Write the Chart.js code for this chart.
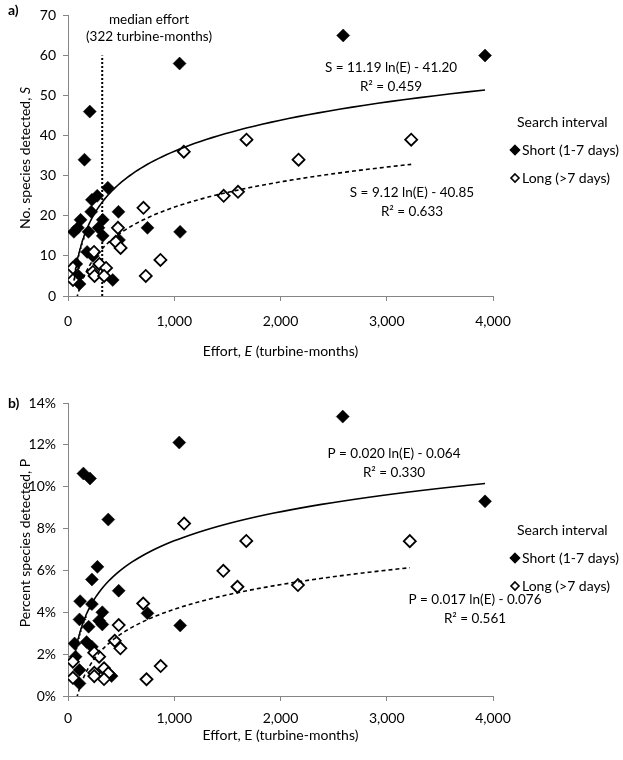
<!DOCTYPE html>
<html>
<head>
<meta charset="utf-8">
<script src="https://cdn.jsdelivr.net/npm/chart.js@4"></script>
<style>
  body { margin: 0; background: #fff; }
  canvas { display: block; }
</style>
</head>
<body>
<canvas id="chartA" width="623" height="380"></canvas>
<canvas id="chartB" width="623" height="380"></canvas>
<script>
// ---- data ----
// panel a: number of species S vs effort E (turbine-months)
const shortEffortA  = [1050, 205, 155, 375, 275, 225, 218, 475, 118, 327, 93, 56, 193, 287, 327, 748, 1055, 480, 180, 234, 78, 100, 109, 421, 2590, 3925];
const shortSpeciesA = [58, 46, 34, 27, 25, 24, 21, 21, 19, 19, 17, 16, 16, 17, 15, 17, 16, 14, 11, 10, 8, 5, 3, 4, 65, 60];
const longEffortA   = [1090, 1680, 1465, 1600, 710, 470, 450, 495, 245, 870, 296, 47, 358, 234, 250, 340, 47, 732, 3230, 2170];
const longSpeciesA  = [36, 39, 25, 26, 22, 17, 13.5, 12, 11, 9, 8, 7, 7, 6, 5, 5, 4, 5, 39, 34];

// panel b: percent of species P vs effort E
const shortEffortB  = [1047, 145, 207, 379, 277, 225, 477, 114, 225, 323, 293, 323, 748, 1056, 108, 194, 62, 175, 225, 71, 108, 108, 410, 2586, 3925];
const shortPercentB = [0.1211, 0.1063, 0.1039, 0.0843, 0.0617, 0.0557, 0.0503, 0.0453, 0.0439, 0.040, 0.036, 0.0342, 0.0395, 0.0337, 0.0366, 0.0331, 0.0251, 0.0258, 0.0235, 0.0188, 0.0124, 0.006, 0.0095, 0.1335, 0.093];
const longEffortB   = [1093, 1678, 1462, 1595, 708, 477, 440, 493, 247, 293, 46, 872, 339, 247, 247, 379, 46, 339, 739, 3217, 2164];
const longPercentB  = [0.0824, 0.0741, 0.0598, 0.0522, 0.0442, 0.0339, 0.0264, 0.0228, 0.0207, 0.0188, 0.0164, 0.0143, 0.0132, 0.0111, 0.0095, 0.0108, 0.0087, 0.0081, 0.008, 0.074, 0.053];

// fitted log trendlines as printed on the figure: y = k ln(E) + c
const fitShortA = [11.19, -41.20];
const fitLongA  = [9.12, -40.85];
const fitShortB = [0.020, -0.064];
const fitLongB  = [0.017, -0.076];
const medianEffort = 322;

const xTicks = [0, 1000, 2000, 3000, 4000];

const FONT = 'Lato, "DejaVu Sans", sans-serif';
const AXIS = '#868686';

function pts(xs, ys) { return xs.map((x, i) => ({ x: x, y: ys[i] })); }

function fitLine(fit, xs) {
  const lo = Math.min(...xs), hi = Math.max(...xs), out = [];
  for (let i = 0; i <= 100; i++) {
    const e = lo * Math.pow(hi / lo, i / 100);
    out.push({ x: e, y: fit[0] * Math.log(e) + fit[1] });
  }
  return out;
}

// draws text made of plain/italic/bold pieces
function rich(ctx, segs, x, y, size, align) {
  let w = 0;
  segs.forEach(s => { ctx.font = (s.b ? 'bold ' : '') + (s.i ? 'italic ' : '') + size + 'px ' + FONT; s.w = ctx.measureText(s.t).width; w += s.w; });
  let cx = align === 'left' ? x : x - w / 2;
  ctx.textBaseline = 'middle';
  ctx.textAlign = 'left';
  ctx.fillStyle = '#000';
  segs.forEach(s => { ctx.font = (s.b ? 'bold ' : '') + (s.i ? 'italic ' : '') + size + 'px ' + FONT; ctx.fillText(s.t, cx, y); cx += s.w; });
}

function diamond(ctx, x, y, r, filled) {
  ctx.beginPath();
  ctx.moveTo(x, y - r); ctx.lineTo(x + r, y); ctx.lineTo(x, y + r); ctx.lineTo(x - r, y); ctx.closePath();
  ctx.fillStyle = filled ? '#000' : '#fff';
  ctx.fill();
  ctx.lineWidth = 1.6; ctx.strokeStyle = '#000'; ctx.stroke();
}

function notesPlugin(cfg) {
  return {
    id: 'notes',
    afterDraw(chart) {
      const ctx = chart.ctx;
      ctx.save();
      rich(ctx, [{ t: cfg.tag, b: true }], 8, cfg.tagY, 14, 'left');
      cfg.labels.forEach(l => rich(ctx, l.segs, l.x, l.y, 13.5, l.align || 'center'));
      // legend
      rich(ctx, [{ t: 'Search interval' }], cfg.legX + 2, cfg.legY, 14, 'left');
      diamond(ctx, cfg.legX, cfg.legY + 28, 4.5, true);
      rich(ctx, [{ t: 'Short (1-7 days)' }], cfg.legX + 7, cfg.legY + 28, 14, 'left');
      diamond(ctx, cfg.legX, cfg.legY + 56, 4, false);
      rich(ctx, [{ t: 'Long (>7 days)' }], cfg.legX + 7, cfg.legY + 56, 14, 'left');
      // axis titles
      const a = chart.chartArea;
      rich(ctx, cfg.xTitle, (a.left + a.right) / 2, cfg.xTitleY, 14, 'center');
      ctx.translate(25, cfg.yTitleY);
      ctx.rotate(-Math.PI / 2);
      rich(ctx, cfg.yTitle, 0, 0, 14, 'center');
      ctx.restore();
    }
  };
}

function makeChart(id, d) {
  return new Chart(document.getElementById(id), {
    type: 'scatter',
    data: {
      datasets: [
        { label: 'fitShort', type: 'line', data: fitLine(d.fitShort, d.shortX), borderColor: '#000', borderWidth: 1.6, pointRadius: 0, order: 0 },
        { label: 'fitLong', type: 'line', data: fitLine(d.fitLong, d.longX), borderColor: '#000', borderWidth: 1.6, borderDash: [4, 3], pointRadius: 0, order: 0 },
        { label: 'Long (>7 days)', data: pts(d.longX, d.longY), pointStyle: 'rectRot', pointRadius: 6, backgroundColor: '#fff', borderColor: '#000', borderWidth: 1.8, order: 1 },
        { label: 'Short (1-7 days)', data: pts(d.shortX, d.shortY), pointStyle: 'rectRot', pointRadius: 6.5, backgroundColor: '#000', borderColor: '#000', borderWidth: 0.5, order: 2 },
        ...(d.median ? [{ label: 'median', type: 'line', data: d.median, borderColor: '#000', borderWidth: 2, borderDash: [2, 2], pointRadius: 0, order: 3 }] : [])
      ]
    },
    options: {
      responsive: false,
      animation: false,
      layout: { padding: { left: 0, right: 130, top: d.top, bottom: 0 } },
      plugins: { legend: { display: false }, tooltip: { enabled: false } },
      scales: {
        x: {
          type: 'linear', min: 0, max: 4000,
          afterBuildTicks: s => { s.ticks = xTicks.map(v => ({ value: v })); },
          ticks: { color: '#000', font: { family: FONT, size: 14 }, padding: d.xPad, callback: v => v.toLocaleString('en-US') },
          grid: { drawOnChartArea: false, tickLength: 5, color: AXIS },
          border: { color: AXIS, width: 1 },
          afterFit: s => { s.height = d.xHeight; }
        },
        y: {
          type: 'linear', min: 0, max: d.yMax,
          afterBuildTicks: s => { s.ticks = d.yTicks.map(v => ({ value: v })); },
          ticks: { color: '#000', font: { family: FONT, size: 14 }, padding: 7, callback: d.yFmt },
          grid: { drawOnChartArea: false, tickLength: 5, color: AXIS },
          border: { color: AXIS, width: 1 },
          afterFit: s => { s.width = 68; }
        }
      }
    },
    plugins: [notesPlugin(d.notes)]
  });
}

makeChart('chartA', {
  shortX: shortEffortA, shortY: shortSpeciesA, longX: longEffortA, longY: longSpeciesA,
  fitShort: fitShortA, fitLong: fitLongA,
  median: [{ x: medianEffort, y: 0 }, { x: medianEffort, y: 60 }],
  yMax: 70, yTicks: [0, 10, 20, 30, 40, 50, 60, 70], yFmt: v => String(v),
  top: 10, xHeight: 84, xPad: 12,
  notes: {
    tag: 'a)', tagY: 10,
    labels: [
      { segs: [{ t: 'median effort' }], x: 149, y: 20 },
      { segs: [{ t: '(322 turbine-months)' }], x: 149, y: 37 },
      { segs: [{ t: 'S = 11.19 ln(E) - 41.20' }], x: 391, y: 68 },
      { segs: [{ t: 'R\u00b2 = 0.459' }], x: 391, y: 87 },
      { segs: [{ t: 'S = 9.12 ln(E) - 40.85' }], x: 412, y: 193 },
      { segs: [{ t: 'R\u00b2 = 0.633' }], x: 412, y: 212 }
    ],
    legX: 515, legY: 122,
    xTitle: [{ t: 'Effort, ' }, { t: 'E', i: true }, { t: ' (turbine-months)' }], xTitleY: 351,
    yTitle: [{ t: 'No. species detected, ' }, { t: 'S', i: true }], yTitleY: 158
  }
});

makeChart('chartB', {
  shortX: shortEffortB, shortY: shortPercentB, longX: longEffortB, longY: longPercentB,
  fitShort: fitShortB, fitLong: fitLongB,
  yMax: 0.14, yTicks: [0, 0.02, 0.04, 0.06, 0.08, 0.10, 0.12, 0.14], yFmt: v => Math.round(v * 100) + '%',
  top: 23, xHeight: 64, xPad: 9,
  notes: {
    tag: 'b)', tagY: 23,
    labels: [
      { segs: [{ t: 'P = 0.020 ln(E) - 0.064' }], x: 394, y: 74 },
      { segs: [{ t: 'R\u00b2 = 0.330' }], x: 394, y: 93 },
      { segs: [{ t: 'P = 0.017 ln(E) - 0.076' }], x: 475, y: 220 },
      { segs: [{ t: 'R\u00b2 = 0.561' }], x: 475, y: 239 }
    ],
    legX: 515, legY: 150,
    xTitle: [{ t: 'Effort, E (turbine-months)' }], xTitleY: 355,
    yTitle: [{ t: 'Percent species detected, P' }], yTitleY: 163
  }
});
</script>
</body>
</html>
